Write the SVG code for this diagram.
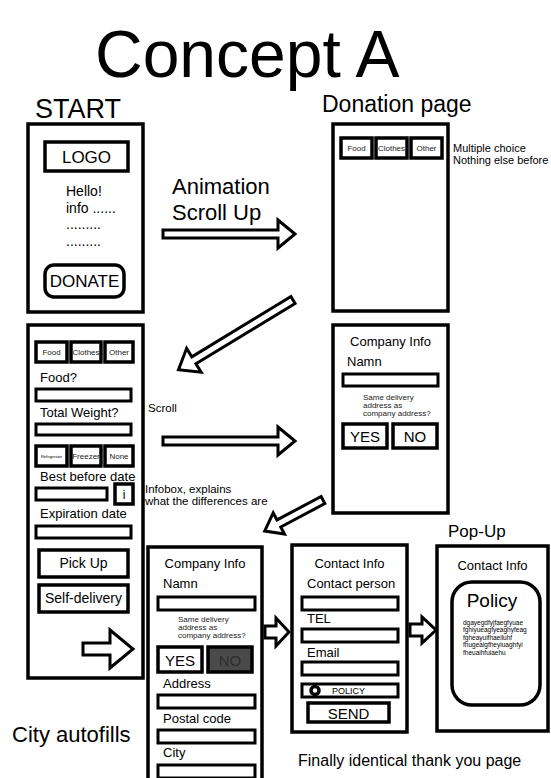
<svg xmlns="http://www.w3.org/2000/svg" width="551" height="778" viewBox="0 0 551 778">
  <style>
    text { font-family: "Liberation Sans", Arial, sans-serif; fill: #000; }
    .screen { fill: #fff; stroke: #000; stroke-width: 3.5; }
    .btn { fill: #fff; stroke: #000; stroke-width: 3.5; }
    .field { fill: #fff; stroke: #000; stroke-width: 3; }
    .arrow { fill: #fff; stroke: #000; stroke-width: 3; stroke-linejoin: miter; }
    .title { font-size: 66px; }
    .h1 { font-size: 27px; }
    .h2 { font-size: 23px; }
    .lbl { font-size: 13px; }
    .btxt { font-size: 15px; }
    .tiny { font-size: 8px; fill: #222; }
    .note { font-size: 11.5px; }
  </style>

  <rect width="551" height="778" fill="#fff"/>

  <text class="title" x="95" y="77">Concept A</text>

  <!-- Start screen -->
  <g id="start">
    <text class="h1" x="35" y="118">START</text>
    <rect class="screen" x="28" y="124" width="115" height="188"/>
    <rect class="btn" x="45" y="142" width="83" height="29"/>
    <text x="86.5" y="163" font-size="17" text-anchor="middle">LOGO</text>
    <text x="66" y="196" font-size="14">Hello!</text>
    <text x="66" y="212.5" font-size="14">info ......</text>
    <text x="66" y="229" font-size="14">.........</text>
    <text x="66" y="245.5" font-size="14">.........</text>
    <rect class="btn" x="45" y="265" width="79" height="32" rx="9"/>
    <text x="84.5" y="287" font-size="17" text-anchor="middle">DONATE</text>
  </g>

  <!-- Donation page -->
  <g id="donation">
    <text class="h2" x="322" y="112">Donation page</text>
    <rect class="screen" x="333" y="124" width="115" height="187"/>
    <rect class="btn" x="341" y="138" width="31" height="20"/>
    <text class="tiny" x="356.5" y="151" text-anchor="middle">Food</text>
    <rect class="btn" x="376" y="138" width="31" height="20"/>
    <text class="tiny" x="391.5" y="151" text-anchor="middle">Clothes</text>
    <rect class="btn" x="411" y="138" width="31" height="20"/>
    <text class="tiny" x="426.5" y="151" text-anchor="middle">Other</text>
    <text x="453" y="152" font-size="11">Multiple choice</text>
    <text x="453" y="164" font-size="11">Nothing else before</text>
  </g>

  <!-- Food form screen -->
  <g id="food-form">
    <rect class="screen" x="28" y="325" width="115" height="353"/>
    <rect class="btn" x="36" y="342" width="31" height="20"/>
    <text class="tiny" x="51.5" y="355" text-anchor="middle">Food</text>
    <rect class="btn" x="71" y="342" width="30" height="20"/>
    <text class="tiny" x="86" y="355" text-anchor="middle">Clothes</text>
    <rect class="btn" x="105" y="342" width="28" height="20"/>
    <text class="tiny" x="119" y="355" text-anchor="middle">Other</text>
    <text class="lbl" x="40" y="382">Food?</text>
    <rect class="field" x="36" y="389" width="95" height="12"/>
    <text class="lbl" x="40" y="417">Total Weight?</text>
    <rect class="field" x="36" y="424" width="95" height="11"/>
    <rect class="btn" x="36" y="446" width="31" height="20"/>
    <text x="51.5" y="458" font-size="4" fill="#222" text-anchor="middle">Refrigerator</text>
    <rect class="btn" x="71" y="446" width="30" height="20"/>
    <text class="tiny" x="86" y="459" text-anchor="middle">Freezer</text>
    <rect class="btn" x="105" y="446" width="28" height="20"/>
    <text class="tiny" x="119" y="459" text-anchor="middle">None</text>
    <text class="lbl" x="40" y="481">Best before date</text>
    <rect class="field" x="36" y="488" width="71" height="12"/>
    <rect class="btn" x="115" y="484" width="18" height="20"/>
    <text x="124" y="499" font-size="12" text-anchor="middle">i</text>
    <text class="lbl" x="40" y="518">Expiration date</text>
    <rect class="field" x="36" y="526" width="95" height="12"/>
    <rect class="btn" x="39" y="550" width="89" height="27"/>
    <text x="83.5" y="568" font-size="14" text-anchor="middle">Pick Up</text>
    <rect class="btn" x="39" y="585" width="89" height="27"/>
    <text x="83.5" y="603" font-size="14" text-anchor="middle">Self-delivery</text>
    <polygon class="arrow" points="83,643 110,643 110,630 133,649 110,668 110,655 83,655"/>
  </g>

  <!-- Company info screen -->
  <g id="company-info">
    <rect class="screen" x="333" y="325" width="115" height="188"/>
    <text class="lbl" x="390.5" y="346" text-anchor="middle">Company Info</text>
    <text class="lbl" x="347" y="366">Namn</text>
    <rect class="field" x="343" y="374" width="95" height="12"/>
    <text class="tiny" x="363" y="400">Same delivery</text>
    <text class="tiny" x="363" y="408">address as</text>
    <text class="tiny" x="363" y="416">company address?</text>
    <rect class="btn" x="343" y="424" width="44" height="24"/>
    <text class="btxt" x="365" y="442" text-anchor="middle">YES</text>
    <rect class="btn" x="393" y="424" width="44" height="24"/>
    <text class="btxt" x="415" y="442" text-anchor="middle">NO</text>
  </g>

  <!-- Company info with address -->
  <g id="company-address">
    <rect class="screen" x="148" y="547" width="114" height="240"/>
    <text class="lbl" x="205" y="568" text-anchor="middle">Company Info</text>
    <text class="lbl" x="163" y="588">Namn</text>
    <rect class="field" x="158" y="597" width="97" height="13"/>
    <text class="tiny" x="178" y="622">Same delivery</text>
    <text class="tiny" x="178" y="630">address as</text>
    <text class="tiny" x="178" y="638">company address?</text>
    <rect class="btn" x="158" y="647" width="44" height="25"/>
    <text class="btxt" x="180" y="666" text-anchor="middle">YES</text>
    <rect class="btn" x="208" y="647" width="44" height="25" style="fill:#4a4a4a"/>
    <text class="btxt" x="230" y="666" text-anchor="middle" style="fill:#2e2e2e">NO</text>
    <text class="lbl" x="163" y="688">Address</text>
    <rect class="field" x="158" y="695" width="97" height="13"/>
    <text class="lbl" x="163" y="723">Postal code</text>
    <rect class="field" x="158" y="730" width="97" height="13"/>
    <text class="lbl" x="163" y="757">City</text>
    <rect class="field" x="158" y="765" width="97" height="13"/>
  </g>

  <!-- Contact info screen -->
  <g id="contact-info">
    <rect class="screen" x="292" y="545" width="115" height="187"/>
    <text class="lbl" x="349.5" y="568" text-anchor="middle">Contact Info</text>
    <text class="lbl" x="307" y="588">Contact person</text>
    <rect class="field" x="302" y="597" width="96" height="13"/>
    <text class="lbl" x="307" y="623">TEL</text>
    <rect class="field" x="302" y="629" width="96" height="13"/>
    <text class="lbl" x="307" y="657">Email</text>
    <rect class="field" x="302" y="662" width="96" height="13"/>
    <rect class="field" x="302" y="684" width="96" height="13"/>
    <circle cx="315" cy="690.5" r="4" fill="#fff" stroke="#000" stroke-width="3.5"/>
    <text x="332" y="694" font-size="9" fill="#222">POLICY</text>
    <rect class="btn" x="308" y="703" width="81" height="19"/>
    <text class="btxt" x="348.5" y="719" text-anchor="middle">SEND</text>
  </g>

  <!-- Pop-up screen -->
  <g id="popup">
    <text x="448" y="537" font-size="17">Pop-Up</text>
    <rect class="screen" x="437" y="546" width="111" height="185"/>
    <text class="lbl" x="492.5" y="570" text-anchor="middle">Contact Info</text>
    <rect class="btn" x="452" y="582" width="88" height="123" rx="20"/>
    <text x="492" y="607" font-size="19" text-anchor="middle">Policy</text>
    <text x="463" y="625" font-size="6.5" fill="#222">dgayegdfyjfaegfyuae</text>
    <text x="463" y="632" font-size="6.5" fill="#222">fghiyueagfyeaghyfeag</text>
    <text x="463" y="640" font-size="6.5" fill="#222">fgheayuifhaeiluhf</text>
    <text x="463" y="647" font-size="6.5" fill="#222">fhugeaigfheyiuaghfyi</text>
    <text x="463" y="655" font-size="6.5" fill="#222">fheuaihfuiaehu</text>
  </g>

  <!-- Transitions -->
  <g id="connectors">
    <polygon class="arrow" points="163,230 278,230 278,220 295,234 278,248 278,238 163,238"/>
    <polygon class="arrow" transform="translate(293,300) rotate(148.7)" points="0,-4 116,-4 116,-14 134,0 116,14 116,4 0,4"/>
    <polygon class="arrow" points="163,437 278,437 278,427 295,441 278,455 278,445 163,445"/>
    <polygon class="arrow" transform="translate(323,500) rotate(152)" points="0,-4 50,-4 50,-12 66,0 50,12 50,4 0,4"/>
    <polygon class="arrow" points="265,626 276,626 276,618 289,632 276,646 276,638 265,638"/>
    <polygon class="arrow" points="410,624 422,624 422,617 436,630 422,643 422,636 410,636"/>
  </g>

  <!-- Annotations -->
  <text x="172" y="194" font-size="22">Animation</text>
  <text x="172" y="220" font-size="22">Scroll Up</text>
  <text class="note" x="148" y="412">Scroll</text>
  <text class="note" x="145" y="493">Infobox, explains</text>
  <text class="note" x="145" y="505">what the differences are</text>
  <text x="12" y="742" font-size="22">City autofills</text>
  <text x="298" y="766" font-size="16">Finally identical thank you page</text>
</svg>
